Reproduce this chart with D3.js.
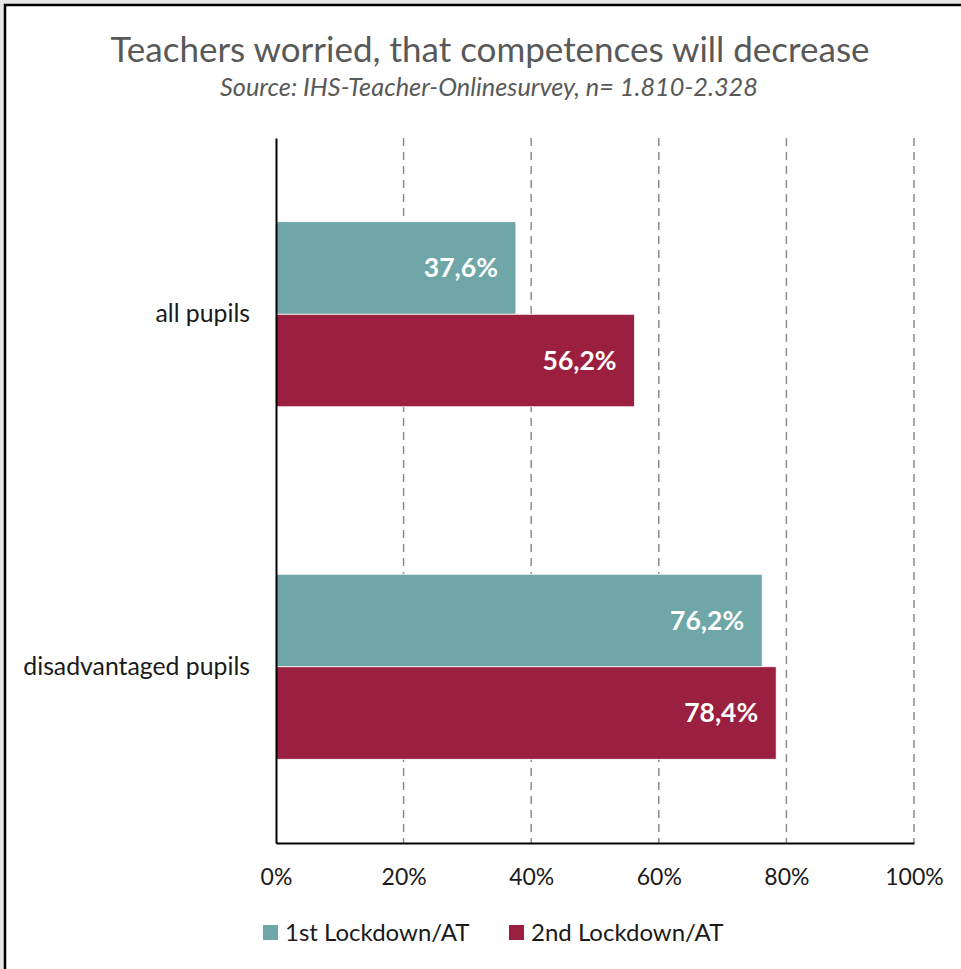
<!DOCTYPE html>
<html>
<head>
<meta charset="utf-8">
<script src="https://cdn.jsdelivr.net/npm/d3@7"></script>
<style>
  body { margin: 0; background: #e6e6e6; }
  svg { display: block; font-family: Lato, "Open Sans", sans-serif; }
</style>
</head>
<body>
<div id="content"></div>
<script>
var categories = ["all pupils", "disadvantaged pupils"];
var seriesNames = ["1st Lockdown/AT", "2nd Lockdown/AT"];
var firstLockdown = [37.6, 76.2];
var secondLockdown = [56.2, 78.4];
var ticks = [0, 20, 40, 60, 80, 100];
var colors = ["#6fa6a8", "#9b2040"];

drawChart();

function drawChart() {
  var width = 961, height = 969;
  var plotLeft = 276, plotRight = 914, plotTop = 138, plotBottom = 843;

  var svg = d3.select("#content").append("svg")
    .attr("width", width)
    .attr("height", height);

  // page frame
  svg.append("rect")
    .attr("x", 5).attr("y", 5)
    .attr("width", width).attr("height", height)
    .attr("fill", "white")
    .attr("stroke", "black")
    .attr("stroke-width", 2.5);

  svg.append("text")
    .attr("x", 490).attr("y", 62)
    .attr("text-anchor", "middle")
    .attr("font-size", 35)
    .attr("fill", "#595959")
    .text("Teachers worried, that competences will decrease");

  svg.append("text")
    .attr("x", 489).attr("y", 96)
    .attr("text-anchor", "middle")
    .attr("font-size", 25.3)
    .attr("font-style", "italic")
    .attr("fill", "#595959")
    .text("Source: IHS-Teacher-Onlinesurvey, n= 1.810-2.328");

  var x = d3.scaleLinear().domain([0, 100]).range([plotLeft, plotRight]);
  var y = d3.scaleBand().domain(categories).range([plotTop, plotBottom])
    .paddingInner(0.475).paddingOuter(0.2375);
  var ySub = d3.scaleBand().domain(seriesNames).range([0, y.bandwidth()]);

  // dashed gridlines
  svg.append("g").selectAll("line")
    .data(ticks.filter(function(d) { return d > 0; }))
    .enter().append("line")
    .attr("x1", function(d) { return x(d); })
    .attr("x2", function(d) { return x(d); })
    .attr("y1", plotTop).attr("y2", plotBottom)
    .attr("stroke", "#8c8c8c")
    .attr("stroke-width", 1.5)
    .attr("stroke-dasharray", "8,6");

  var bars = [];
  categories.forEach(function(c, i) {
    bars.push({ cat: c, s: seriesNames[0], v: firstLockdown[i], col: colors[0] });
    bars.push({ cat: c, s: seriesNames[1], v: secondLockdown[i], col: colors[1] });
  });

  svg.append("g").selectAll("rect")
    .data(bars)
    .enter().append("rect")
    .attr("x", x(0))
    .attr("y", function(d) { return y(d.cat) + ySub(d.s); })
    .attr("width", function(d) { return x(d.v) - x(0); })
    .attr("height", ySub.bandwidth())
    .attr("fill", function(d) { return d.col; })
    .attr("stroke", "white")
    .attr("stroke-width", 0.8);

  svg.append("g").selectAll("text")
    .data(bars)
    .enter().append("text")
    .attr("x", function(d) { return x(d.v) - 18; })
    .attr("y", function(d) { return y(d.cat) + ySub(d.s) + ySub.bandwidth() / 2; })
    .attr("dy", "0.35em")
    .attr("text-anchor", "end")
    .attr("font-size", 26.5)
    .attr("font-weight", "bold")
    .attr("fill", "white")
    .text(function(d) { return d3.format(".1f")(d.v).replace(".", ",") + "%"; });

  // axes
  var xAxis = svg.append("g")
    .attr("transform", "translate(0," + plotBottom + ")")
    .call(d3.axisBottom(x).tickValues(ticks).tickSize(0).tickPadding(26)
      .tickFormat(function(d) { return d + "%"; }));
  xAxis.select(".domain").attr("stroke", "black").attr("stroke-width", 2);
  xAxis.selectAll("text").attr("font-size", 23).attr("fill", "#1a1a1a")
    .attr("font-family", "Lato, sans-serif");

  var yAxis = svg.append("g")
    .attr("transform", "translate(" + plotLeft + ",0)")
    .call(d3.axisLeft(y).tickSize(0).tickPadding(26));
  yAxis.select(".domain").attr("stroke", "black").attr("stroke-width", 2);
  yAxis.selectAll("text").attr("font-size", 24.8).attr("fill", "#1a1a1a")
    .attr("font-family", "Lato, sans-serif");

  // legend
  var legend = svg.append("g").attr("transform", "translate(263,925)");
  var item = legend.selectAll("g")
    .data(seriesNames)
    .enter().append("g")
    .attr("transform", function(d, i) { return "translate(" + (i * 246) + ",0)"; });
  item.append("rect")
    .attr("width", 15).attr("height", 15)
    .attr("fill", function(d, i) { return colors[i]; });
  item.append("text")
    .attr("x", 22).attr("y", 16)
    .attr("font-size", 24)
    .attr("fill", "#1a1a1a")
    .text(function(d) { return d; });
}
</script>
</body>
</html>
